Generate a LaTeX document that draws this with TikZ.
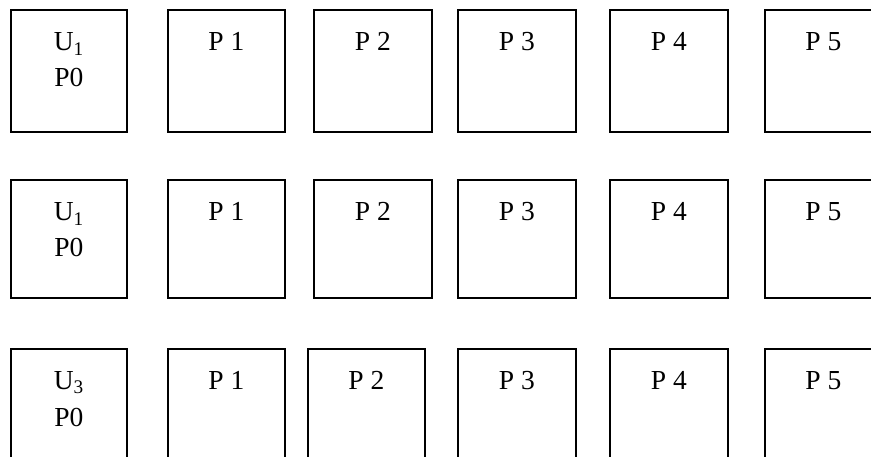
\documentclass[tikz,border=0pt]{standalone}
\usepackage{fontspec}
\setmainfont{Liberation Serif}
\begin{document}
\begin{tikzpicture}[x=1pt,y=-1pt,
  box/.style={draw=black,line width=1.6pt,fill=white,inner sep=0pt},
  lbl/.style={anchor=base,inner sep=0pt,font=\fontsize{27.5}{33}\selectfont}]
\useasboundingbox (0,0) rectangle (871,457);
\clip (0,0) rectangle (871,457);
% row 1
\node[box,minimum width=116pt,minimum height=122pt,anchor=north west] (a0) at (10,9.5) {};
\node[box,minimum width=117pt,minimum height=122pt,anchor=north west] (a1) at (167,9.5) {};
\node[box,minimum width=118pt,minimum height=122pt,anchor=north west] (a2) at (313,9.5) {};
\node[box,minimum width=118pt,minimum height=122pt,anchor=north west] (a3) at (457,9.5) {};
\node[box,minimum width=118pt,minimum height=122pt,anchor=north west] (a4) at (609,9.5) {};
\node[box,minimum width=117pt,minimum height=122pt,anchor=north west] (a5) at (764,9.5) {};
\node[lbl] (a0u) at ([yshift=-41.5pt]a0.north) {U\textsubscript{1}};
\node[lbl] (a0p) at ([yshift=-77pt]a0.north) {P0};
\node[lbl] (a1t) at ([yshift=-41pt]a1.north) {P 1};
\node[lbl] (a2t) at ([yshift=-41pt]a2.north) {P 2};
\node[lbl] (a3t) at ([yshift=-41pt]a3.north) {P 3};
\node[lbl] (a4t) at ([yshift=-41pt]a4.north) {P 4};
\node[lbl] (a5t) at ([yshift=-41pt]a5.north) {P 5};
% row 2
\node[box,minimum width=116pt,minimum height=118pt,anchor=north west] (b0) at (10,179) {};
\node[box,minimum width=117pt,minimum height=118pt,anchor=north west] (b1) at (167,179) {};
\node[box,minimum width=118pt,minimum height=118pt,anchor=north west] (b2) at (313,179) {};
\node[box,minimum width=118pt,minimum height=118pt,anchor=north west] (b3) at (457,179) {};
\node[box,minimum width=118pt,minimum height=118pt,anchor=north west] (b4) at (609,179) {};
\node[box,minimum width=117pt,minimum height=118pt,anchor=north west] (b5) at (764,179) {};
\node[lbl] (b0u) at ([yshift=-42pt]b0.north) {U\textsubscript{1}};
\node[lbl] (b0p) at ([yshift=-78pt]b0.north) {P0};
\node[lbl] (b1t) at ([yshift=-42pt]b1.north) {P 1};
\node[lbl] (b2t) at ([yshift=-42pt]b2.north) {P 2};
\node[lbl] (b3t) at ([yshift=-42pt]b3.north) {P 3};
\node[lbl] (b4t) at ([yshift=-42pt]b4.north) {P 4};
\node[lbl] (b5t) at ([yshift=-42pt]b5.north) {P 5};
% row 3
\node[box,minimum width=116pt,minimum height=122pt,anchor=north west] (c0) at (10,348) {};
\node[box,minimum width=117pt,minimum height=122pt,anchor=north west] (c1) at (167,348) {};
\node[box,minimum width=117pt,minimum height=122pt,anchor=north west] (c2) at (307,348) {};
\node[box,minimum width=118pt,minimum height=122pt,anchor=north west] (c3) at (457,348) {};
\node[box,minimum width=118pt,minimum height=122pt,anchor=north west] (c4) at (609,348) {};
\node[box,minimum width=117pt,minimum height=122pt,anchor=north west] (c5) at (764,348) {};
\node[lbl] (c0u) at ([yshift=-41.5pt]c0.north) {U\textsubscript{3}};
\node[lbl] (c0p) at ([yshift=-78pt]c0.north) {P0};
\node[lbl] (c1t) at ([yshift=-41pt]c1.north) {P 1};
\node[lbl] (c2t) at ([yshift=-41pt]c2.north) {P 2};
\node[lbl] (c3t) at ([yshift=-41pt]c3.north) {P 3};
\node[lbl] (c4t) at ([yshift=-41pt]c4.north) {P 4};
\node[lbl] (c5t) at ([yshift=-41pt]c5.north) {P 5};
\end{tikzpicture}
\end{document}
